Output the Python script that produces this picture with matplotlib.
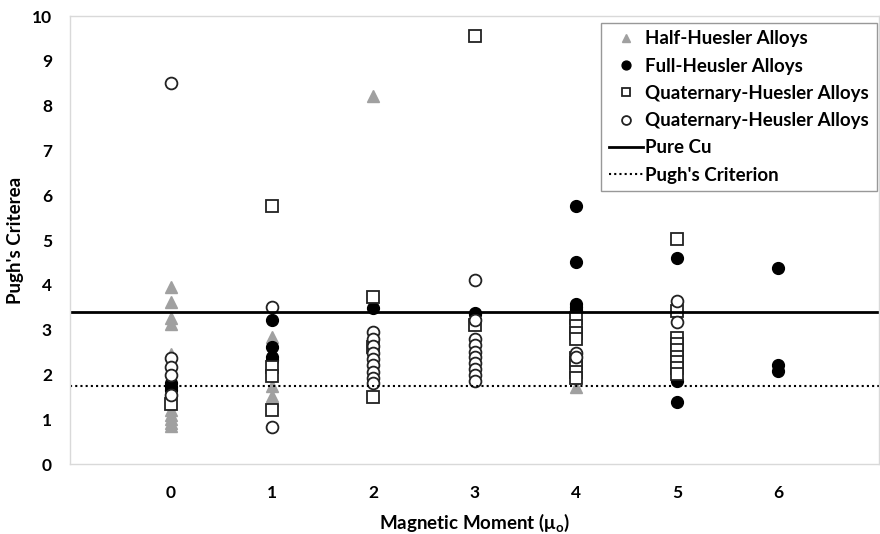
import matplotlib.pyplot as plt

plt.rcParams["font.family"] = ["Lato", "DejaVu Sans"]
plt.rcParams["font.weight"] = "bold"

# Pugh's ratio by magnetic moment, grouped by alloy family
half_x = [0, 0, 0, 0, 0, 0, 0, 0, 0, 0, 1, 1, 1, 1, 1, 2, 4]
half_y = [3.95, 3.62, 3.25, 3.12, 2.45, 1.2, 1.1, 1.0, 0.92, 0.85,
          2.84, 2.72, 1.75, 1.52, 1.42, 8.22, 1.72]

full_x = [0, 0, 0, 1, 1, 1, 1, 2, 3, 3, 4, 4, 4, 4, 4, 5, 5, 5, 6, 6, 6]
full_y = [1.8, 1.72, 1.65, 3.22, 2.62, 2.4, 2.32, 3.48, 3.38, 3.35,
          5.76, 4.52, 3.57, 3.5, 3.44, 4.6, 1.85, 1.38, 4.37, 2.2, 2.07]

quat_sq_x = [0, 1, 1, 1, 1, 2, 2, 2, 3, 3,
             4, 4, 4, 4, 4, 4, 4, 4,
             5, 5, 5, 5, 5, 5, 5, 5, 5]
quat_sq_y = [1.34, 5.75, 2.17, 1.97, 1.2, 3.73, 2.62, 1.5, 9.55, 3.1,
             3.25, 3.08, 2.92, 2.78, 2.37, 2.25, 2.06, 1.92,
             5.02, 3.42, 2.82, 2.68, 2.55, 2.4, 2.27, 2.15, 2.02]

quat_ci_x = [0, 0, 0, 0, 0, 1, 1,
             2, 2, 2, 2, 2, 2, 2, 2, 2,
             3, 3, 3, 3, 3, 3, 3, 3, 3, 3,
             4, 4, 5, 5]
quat_ci_y = [8.5, 2.36, 2.17, 1.98, 1.55, 3.51, 0.83,
             2.95, 2.78, 2.63, 2.48, 2.35, 2.2, 2.05, 1.92, 1.8,
             4.11, 3.22, 2.78, 2.65, 2.5, 2.38, 2.25, 2.12, 1.98, 1.85,
             2.47, 2.38, 3.63, 3.17]

pure_cu = 3.4
pugh_limit = 1.75

fig = plt.figure(figsize=(8.8, 5.34), dpi=100)
ax = fig.add_axes([0.0795, 0.131, 0.9195, 0.839])

ax.plot(half_x, half_y, ls="none", marker="^", ms=8, color="#a0a0a0",
        label="Half-Huesler Alloys")
ax.plot(full_x, full_y, ls="none", marker="o", ms=8.5, color="black",
        label="Full-Heusler Alloys")
ax.plot(quat_sq_x, quat_sq_y, ls="none", marker="s", ms=8, mfc="white",
        mec="#222222", mew=1.3, label="Quaternary-Huesler Alloys")
ax.plot(quat_ci_x, quat_ci_y, ls="none", marker="o", ms=8.5, mfc="white",
        mec="#222222", mew=1.3, label="Quaternary-Heusler Alloys")
ax.axhline(pure_cu, color="black", lw=2, label="Pure Cu")
ax.axhline(pugh_limit, color="black", lw=1.5, ls=(0, (1, 1.5)),
           label="Pugh's Criterion")

ax.set_xlim(-1, 7)
ax.set_ylim(0, 10)
ax.set_xticks(range(0, 7))
ax.set_yticks(range(0, 11))
ax.tick_params(axis="x", length=0, labelsize=12.5, pad=15)
ax.tick_params(axis="y", length=0, labelsize=12.5, pad=13)
for lab in ax.get_xticklabels() + ax.get_yticklabels():
    lab.set_fontweight("bold")
for sp in ax.spines.values():
    sp.set_color("#d9d9d9")
    sp.set_linewidth(1)

ax.set_xlabel("Magnetic Moment (μ$_\\mathregular{o}$)", fontsize=13.5,
              fontweight="bold", va="center")
ax.xaxis.set_label_coords(0.5, -0.131)
ax.set_ylabel("Pugh's Criterea", fontsize=13.5, fontweight="bold", va="center")
ax.yaxis.set_label_coords(-0.067, 0.5)

leg = ax.legend(loc="upper right", bbox_to_anchor=(0.997, 0.985),
                borderaxespad=0, fancybox=False, edgecolor="#7f7f7f",
                fontsize=13.5, handlelength=1.8, handletextpad=0.15,
                labelspacing=0.55, borderpad=0.4, markerscale=0.75)
leg.get_frame().set_linewidth(1)
for t in leg.get_texts():
    t.set_fontweight("bold")

fig.savefig("out.png", dpi=100)
